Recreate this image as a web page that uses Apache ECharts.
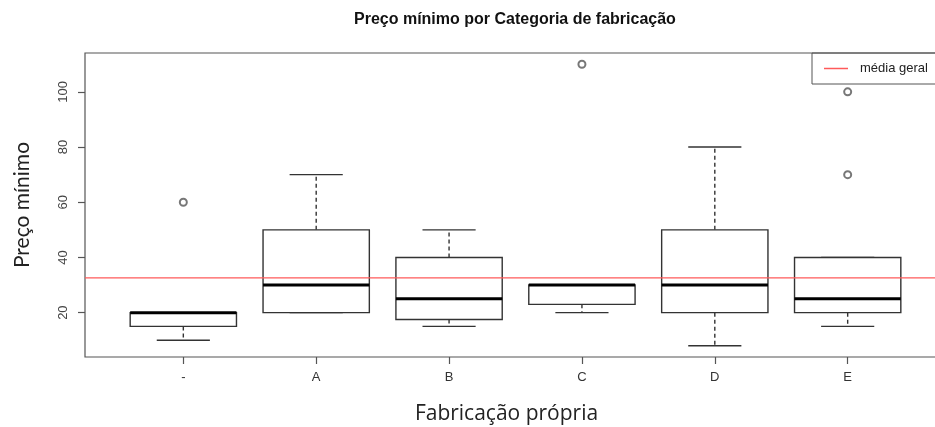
<!DOCTYPE html>
<html>
<head>
<meta charset="utf-8">
<script src="https://cdn.jsdelivr.net/npm/echarts@6/dist/echarts.min.js"></script>
<style>html,body{margin:0;padding:0;background:#fff}#c{width:935px;height:427px}</style>
</head>
<body>
<div id="c"></div>
<script>
var categories = ['-', 'A', 'B', 'C', 'D', 'E'];
var lowerWhisker = [10, 20, 15, 20, 8, 15];
var q1 = [15, 20, 17.5, 23, 20, 20];
var medians = [20, 30, 25, 30, 30, 25];
var q3 = [20, 50, 40, 30, 50, 40];
var upperWhisker = [20, 70, 50, 30, 80, 40];
var outlierCategory = ['-', 'C', 'E', 'E'];
var outlierValue = [60, 110, 100, 70];
var mediaGeral = 32.6;
var yTicks = [20, 40, 60, 80, 100];

var boxData = categories.map(function (c, i) {
  return [i + 1, lowerWhisker[i], q1[i], medians[i], q3[i], upperWhisker[i]];
});
var outlierData = outlierCategory.map(function (c, i) {
  return [categories.indexOf(c) + 1, outlierValue[i]];
});
var xPos = categories.map(function (c, i) { return i + 1; });

var chart = echarts.init(document.getElementById('c'), null, {renderer: 'canvas'});
var lineCol = '#333';
chart.setOption({
  animation: false,
  title: {
    text: 'Preço mínimo por Categoria de fabricação',
    left: 354, top: 12, padding: 0,
    textStyle: {fontFamily: 'Liberation Sans', fontWeight: 'bold', fontSize: 16, color: '#111'}
  },
  legend: {
    left: 812, top: 53,
    padding: [9, 40, 9, 12],
    borderColor: '#555', borderWidth: 1, borderRadius: 0,
    itemWidth: 24, itemHeight: 1.5,
    data: [{name: 'média geral', icon: 'rect'}],
    textStyle: {fontFamily: 'Liberation Sans', fontSize: 13, color: '#222', padding: [0, 0, 0, 7]}
  },
  grid: {
    left: 85, top: 53, width: 861, height: 304,
    outerBoundsMode: 'none', containLabel: false,
    show: true, borderColor: '#555', borderWidth: 1.2, backgroundColor: 'transparent'
  },
  xAxis: {
    type: 'value', min: 0.26, max: 6.74,
    name: 'Fabricação própria', nameLocation: 'middle', nameGap: 47,
    nameTextStyle: {fontFamily: 'Open Sans', fontSize: 21, color: '#222', padding: [0, 18, 0, 0]},
    axisLine: {show: false},
    splitLine: {show: false},
    axisTick: {show: true, length: 7, customValues: xPos, lineStyle: {color: '#555', width: 1.2}},
    axisLabel: {
      customValues: xPos, margin: 14,
      fontFamily: 'Liberation Sans', fontSize: 13, color: '#333',
      formatter: function (v) { return categories[Math.round(v) - 1]; }
    }
  },
  yAxis: {
    type: 'value', min: 3.92, max: 114.08,
    name: 'Preço mínimo', nameLocation: 'middle', nameGap: 52, nameRotate: 90,
    nameTextStyle: {fontFamily: 'Lato', fontSize: 21, color: '#222'},
    axisLine: {show: false},
    splitLine: {show: false},
    axisTick: {show: true, length: 7, customValues: yTicks, lineStyle: {color: '#555', width: 1.2}},
    axisLabel: {
      customValues: yTicks, rotate: 90, margin: 15,
      fontFamily: 'Liberation Sans', fontSize: 13, color: '#444'
    }
  },
  series: [
    {
      type: 'custom',
      name: 'box',
      data: boxData,
      encode: {x: 0, y: [1, 2, 3, 4, 5]},
      z: 3,
      renderItem: function (params, api) {
        var x = api.value(0);
        var lo = api.coord([x, api.value(1)]);
        var b1 = api.coord([x, api.value(2)]);
        var md = api.coord([x, api.value(3)]);
        var b3 = api.coord([x, api.value(4)]);
        var hi = api.coord([x, api.value(5)]);
        var half = api.size([0.8, 0])[0] / 2;
        var cap = half / 2;
        var cx = lo[0];
        var solid = {stroke: lineCol, lineWidth: 1.4, fill: null};
        var dashed = {stroke: lineCol, lineWidth: 1.4, lineDash: [4, 3]};
        return {
          type: 'group',
          children: [
            {type: 'line', shape: {x1: cx, y1: b3[1], x2: cx, y2: hi[1]}, style: dashed},
            {type: 'line', shape: {x1: cx, y1: b1[1], x2: cx, y2: lo[1]}, style: dashed},
            {type: 'line', shape: {x1: cx - cap, y1: hi[1], x2: cx + cap, y2: hi[1]}, style: solid},
            {type: 'line', shape: {x1: cx - cap, y1: lo[1], x2: cx + cap, y2: lo[1]}, style: solid},
            {type: 'rect', shape: {x: cx - half, y: b3[1], width: 2 * half, height: b1[1] - b3[1]}, style: {stroke: lineCol, lineWidth: 1.4, fill: '#fff'}},
            {type: 'line', shape: {x1: cx - half, y1: md[1], x2: cx + half, y2: md[1]}, style: {stroke: '#000', lineWidth: 3}}
          ]
        };
      }
    },
    {
      type: 'scatter',
      name: 'outliers',
      data: outlierData,
      symbol: 'emptyCircle',
      symbolSize: 7,
      itemStyle: {color: '#555', borderColor: '#555', borderWidth: 1},
      z: 4
    },
    {
      type: 'line',
      name: 'média geral',
      data: [[0.26, mediaGeral], [6.74, mediaGeral]],
      showSymbol: false, symbol: 'none',
      color: '#ff5a5a',
      lineStyle: {color: '#ff5a5a', width: 1.3},
      z: 5
    }
  ]
});
</script>
</body>
</html>
